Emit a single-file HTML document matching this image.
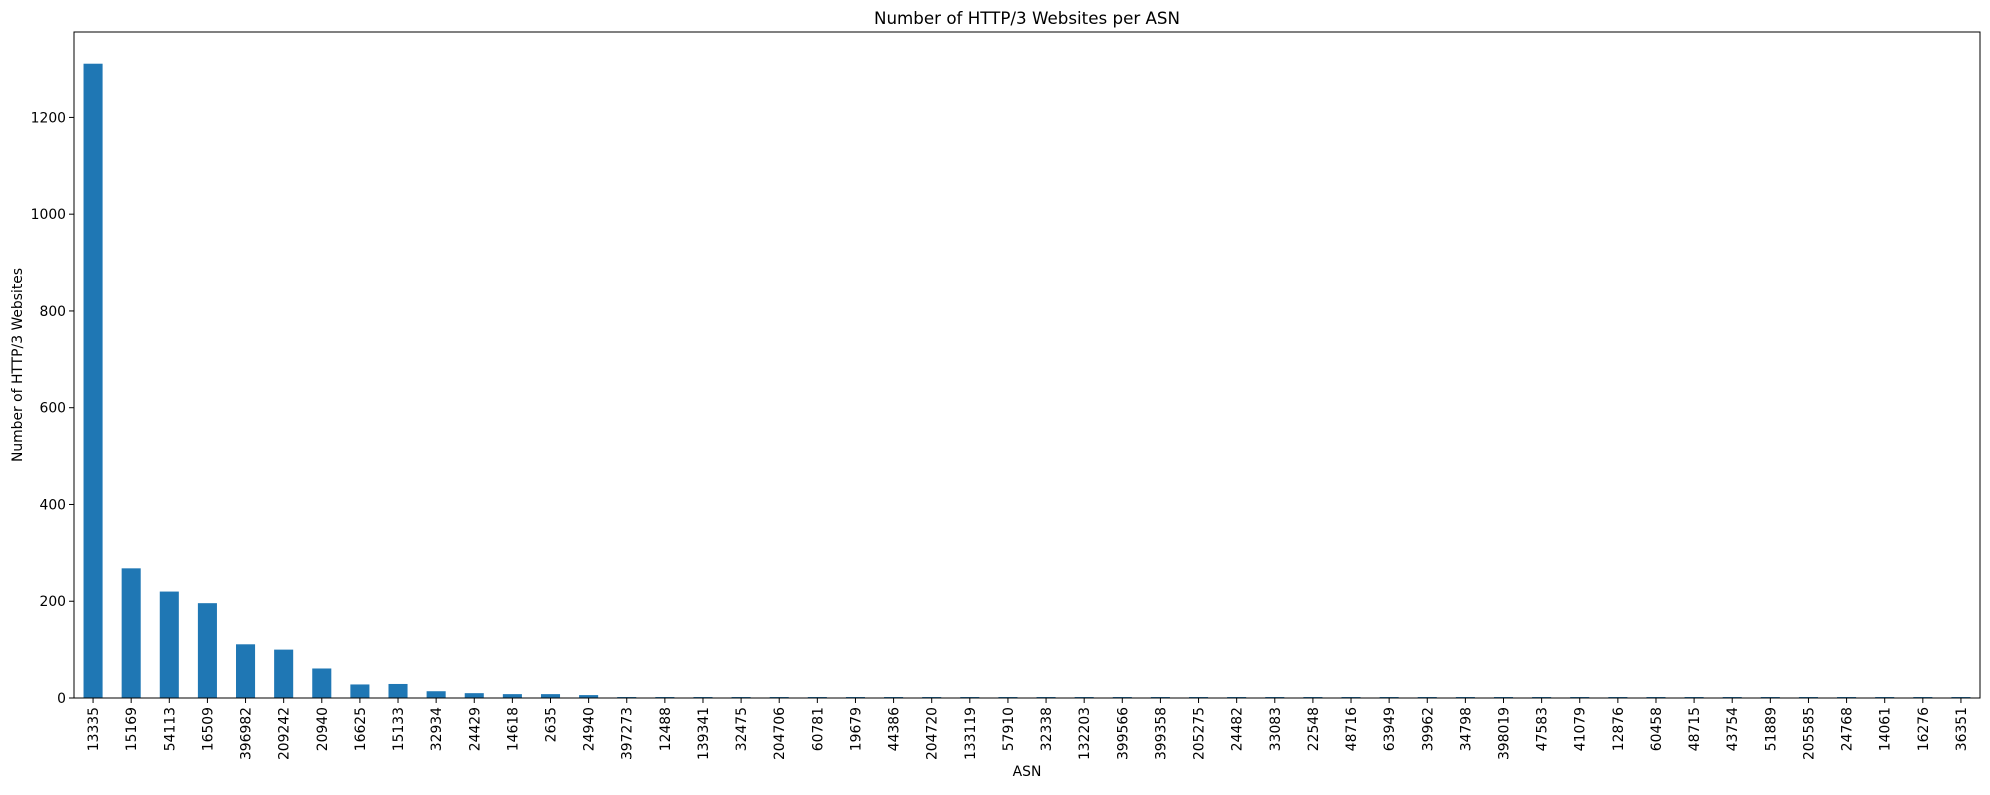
<!DOCTYPE html>
<html><head><meta charset="utf-8">
<style>
html,body{margin:0;padding:0;background:#fff;}
svg text{font-family:"DejaVu Sans","Liberation Sans",sans-serif;fill:#000;}
</style></head>
<body>
<svg id="chart" width="1990" height="790" xmlns="http://www.w3.org/2000/svg">
<text x="1027" y="24" font-size="16.7" text-anchor="middle">Number of HTTP/3 Websites per ASN</text>
<g id="bars"></g>
<g id="xticks"></g>
<g id="yticks"></g>
<rect x="74" y="32" width="1906" height="666" fill="none" stroke="#000" stroke-width="1"/>
<text x="1027" y="776" font-size="13.9" text-anchor="middle">ASN</text>
<text transform="translate(22,365) rotate(-90)" font-size="13.9" text-anchor="middle">Number of HTTP/3 Websites</text>
</svg>
<script>
const categories = ["13335","15169","54113","16509","396982","209242","20940","16625","15133","32934","24429","14618","2635","24940","397273","12488","139341","32475","204706","60781","19679","44386","204720","133119","57910","32338","132203","399566","399358","205275","24482","33083","22548","48716","63949","39962","34798","398019","47583","41079","12876","60458","48715","43754","51889","205585","24768","14061","16276","36351"];
const values = [1311,268,220,196,111,100,61,28,29,14,10,8,8,6,2,2,2,2,2,2,2,2,2,2,2,2,2,2,2,2,2,2,2,2,2,2,2,2,2,2,2,2,2,2,2,2,2,2,2,2];
const yTicks = [0,200,400,600,800,1000,1200];

const L=74,R=1980,T=32,B=698;
const yMax = Math.max(...values)*1.05;
const n = categories.length;
const step=(R-L)/n;
function x(i){return L+step*(i+0.5);}
function y(v){return B-(B-T)*v/yMax;}
const NS="http://www.w3.org/2000/svg";
const bars=document.getElementById('bars');
const xt=document.getElementById('xticks');
const yt=document.getElementById('yticks');
categories.forEach((c,i)=>{
  const r=document.createElementNS(NS,'rect');
  
  
  r.setAttribute('x',x(i)-step*0.25);
  r.setAttribute('width',step*0.5);
  r.setAttribute('y',y(values[i]));
  r.setAttribute('height',B-y(values[i]));
  r.setAttribute('fill','#1f77b4');
  bars.appendChild(r);
  const t=document.createElementNS(NS,'line');
  
  
  t.setAttribute('x1',x(i));t.setAttribute('x2',x(i));
  t.setAttribute('y1',B);t.setAttribute('y2',B+5);
  t.setAttribute('stroke','#000');
  xt.appendChild(t);
  const tx=document.createElementNS(NS,'text');
  
  
  tx.setAttribute('font-size','13.9');
  tx.setAttribute('text-anchor','end');
  tx.setAttribute('transform','translate('+(x(i)+5)+','+(B+9)+') rotate(-90)');
  tx.textContent=c;
  xt.appendChild(tx);
});
yTicks.forEach(v=>{
  const t=document.createElementNS(NS,'line');
  
  
  t.setAttribute('x1',L-5);t.setAttribute('x2',L);
  t.setAttribute('y1',y(v));t.setAttribute('y2',y(v));
  t.setAttribute('stroke','#000');
  yt.appendChild(t);
  const tx=document.createElementNS(NS,'text');
  
  
  tx.setAttribute('font-size','13.9');
  tx.setAttribute('text-anchor','end');
  tx.setAttribute('x',L-8);
  tx.setAttribute('y',y(v)+5);
  tx.textContent=v;
  yt.appendChild(tx);
});
</script>
</body></html>
